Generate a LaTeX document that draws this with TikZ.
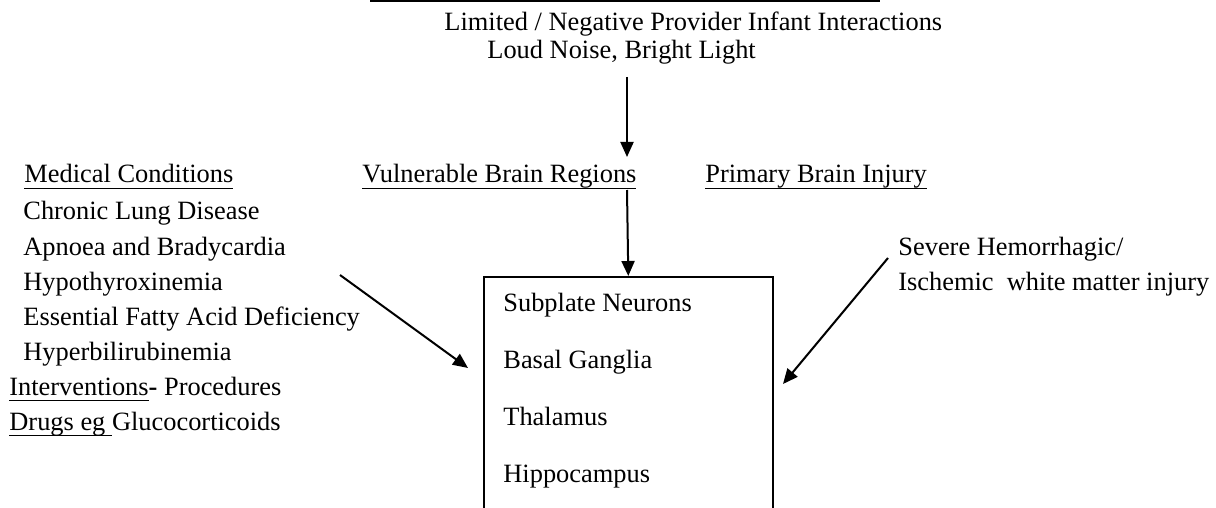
\documentclass[tikz,border=0pt]{standalone}
\usepackage{fontspec}
\setmainfont{Liberation Serif}
\usetikzlibrary{arrows.meta, positioning}
\newsavebox{\ulbox}
\newcommand{\ulin}[1]{\sbox\ulbox{#1}\rlap{\rule[-3pt]{\wd\ulbox}{0.7pt}}\usebox\ulbox}

\begin{document}
\begin{tikzpicture}[x=0.5pt, y=-0.5pt,
  lbl/.style={anchor=base west, inner sep=0pt, font=\fontsize{13.2}{15}\selectfont},
  arr/.style={line width=1pt, -{Triangle[length=7.5pt, width=6.5pt]}}]
  \useasboundingbox (0,0) rectangle (1216,508);
  \clip (0,0) rectangle (1216,508);

  % top line
  \draw[line width=1.1pt] (370,1) -- (880,1);

  % environment
  \node[lbl] (limited) at (444,31) {Limited / Negative Provider Infant Interactions};
  \node[lbl] (noise) at (487,59) {Loud Noise, Bright Light};

  % headings
  \node[lbl] (medical) at (24,183) {\ulin{Medical Conditions}};
  \node[lbl] (vulnerable) at (362,183) {\ulin{Vulnerable Brain Regions}};
  \node[lbl] (primary) at (705,183) {\ulin{Primary Brain Injury}};

  % medical conditions
  \node[lbl] (lung) at (23,220) {Chronic Lung Disease};
  \node[lbl] (apnoea) at (23,255) {Apnoea and Bradycardia};
  \node[lbl] (hypo) at (23,290) {Hypothyroxinemia};
  \node[lbl] (fatty) at (23,325) {Essential Fatty Acid Deficiency};
  \node[lbl] (hyper) at (23,360) {Hyperbilirubinemia};
  \node[lbl] (interv) at (9,395) {\ulin{Interventions}\textbf{-} Procedures};
  \node[lbl] (drugs) at (9,430) {\ulin{Drugs eg }Glucocorticoids};

  % primary injury
  \node[lbl] (severe) at (898,255) {Severe Hemorrhagic/};
  \node[lbl] (ischemic) at (898,290) {Ischemic\ \ white matter injury};

  % regions box
  \node[draw, line width=0.8pt, anchor=north west, inner sep=0pt,
        minimum width=144.5pt, minimum height=130pt] (box) at (483,276) {};
  \node[lbl] (subplate) at (503,311) {Subplate Neurons};
  \node[lbl] (basal) at (503,368) {Basal Ganglia};
  \node[lbl] (thalamus) at (503,425) {Thalamus};
  \node[lbl] (hippo) at (503,482) {Hippocampus};

  % arrows
  \coordinate (a1s) at (627,77);
  \coordinate (a1e) at (627,157);
  \coordinate (a2s) at (627,190);
  \coordinate (mcs) at (340,275);
  \coordinate (mce) at (468,368);
  \coordinate (pis) at (888,258);
  \coordinate (pie) at (783,384);
  \draw[arr] (a1s) -- (a1e);
  \draw[arr] (a2s) -- (box.north);
  \draw[arr] (mcs) -- (mce);
  \draw[arr] (pis) -- (pie);
\end{tikzpicture}
\end{document}
